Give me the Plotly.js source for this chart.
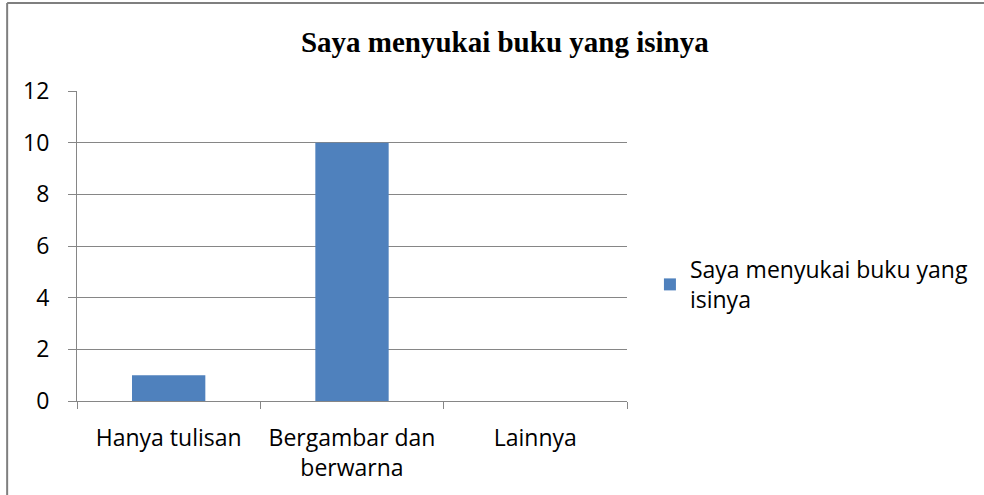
<!DOCTYPE html>
<html>
<head>
<meta charset="utf-8">
<script src="https://cdn.plot.ly/plotly-3.0.1.min.js"></script>
<style>
html,body{margin:0;padding:0;background:#fff;}
#chart{width:984px;height:495px;}
</style>
</head>
<body>
<div id="chart"></div>
<script>
const categories = ["Hanya tulisan", "Bergambar dan<br>berwarna", "Lainnya"];
const values = [1, 10, 0];
const seriesName = "Saya menyukai buku yang<br>isinya";
const titleText = "Saya menyukai buku yang isinya";
const yTicks = [0, 2, 4, 6, 8, 10, 12];

const gridColor = "#868686";
const labelFont = {family: "'Open Sans', Lato, sans-serif", size: 23, color: "#000"};

const data = [{
  type: "bar",
  x: categories,
  y: values,
  name: seriesName,
  marker: {color: "#4F81BD"},
  showlegend: true
}];

const layout = {
  width: 984,
  height: 495,
  margin: {l: 77, r: 357, t: 91, b: 94, autoexpand: false},
  paper_bgcolor: "#fff",
  plot_bgcolor: "#fff",
  bargap: 0.6,
  title: {
    text: "<b>" + titleText + "</b>",
    font: {family: "'Liberation Serif', 'Times New Roman', serif", size: 29, color: "#000"},
    x: 0.513, xanchor: "center",
    y: 0.915, yanchor: "middle"
  },
  xaxis: {
    type: "category",
    tickfont: labelFont,
    showline: true, linecolor: gridColor, linewidth: 1,
    ticks: "outside", ticklen: 7, tickcolor: gridColor,
    tickson: "boundaries",
    ticklabelstandoff: 16,
    showgrid: false,
    zeroline: false,
    fixedrange: true
  },
  yaxis: {
    range: [0, 12],
    tickvals: yTicks,
    ticktext: yTicks.map(String),
    tickfont: labelFont,
    showline: true, linecolor: gridColor, linewidth: 1,
    ticks: "outside", ticklen: 8, tickcolor: gridColor,
    showgrid: true, gridcolor: gridColor, gridwidth: 1,
    zeroline: false,
    ticklabelstandoff: 14,
    fixedrange: true
  },
  legend: {
    xref: "container", yref: "container",
    x: 0.6605, xanchor: "left",
    y: 0.499, yanchor: "top",
    font: labelFont,
    itemwidth: 30
  },
  shapes: [
    {type: "line", xref: "paper", yref: "paper", x0: -0.127, x1: 1.8, y0: 1.284, y1: 1.284, line: {color: "#7f7f7f", width: 2}},
    {type: "line", xref: "paper", yref: "paper", x0: -0.127, x1: -0.127, y0: 1.284, y1: -0.4, line: {color: "#7f7f7f", width: 2}}
  ]
};

Plotly.newPlot("chart", data, layout, {displayModeBar: false, staticPlot: true});
</script>
</body>
</html>
